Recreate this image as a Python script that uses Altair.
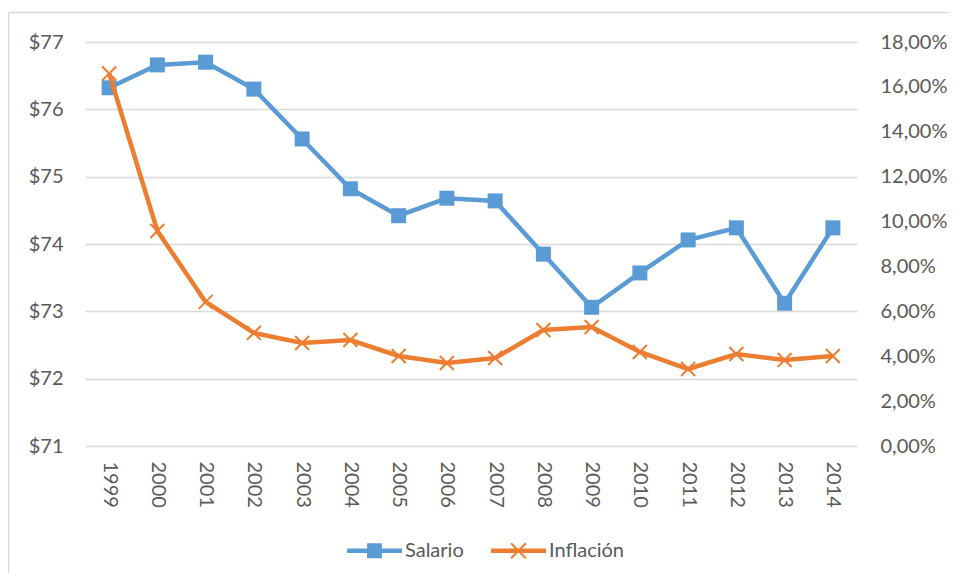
import altair as alt
import pandas as pd

years = [str(y) for y in range(1999, 2015)]
salario = [76.32, 76.66, 76.70, 76.30, 75.56, 74.82, 74.42, 74.68, 74.64, 73.85,
           73.06, 73.57, 74.06, 74.24, 73.12, 74.24]
inflacion_pct = [16.60, 9.58, 6.42, 5.04, 4.59, 4.72, 4.01, 3.70, 3.92, 5.17,
                 5.30, 4.19, 3.43, 4.10, 3.83, 4.01]
series_names = ["Salario", "Inflación"]
colors = ["#5B9BD5", "#ED7D31"]
left_ticks = [71, 72, 73, 74, 75, 76, 77]
right_ticks = [0, 0.02, 0.04, 0.06, 0.08, 0.10, 0.12, 0.14, 0.16, 0.18]

df = pd.DataFrame({
    "year": years * 2,
    "series": ["Salario"] * len(years) + ["Inflación"] * len(years),
    "value": salario + [v / 100 for v in inflacion_pct],
})

FONT = "Lato"
FS = 20
TXT = "#595959"
GRID = "#D9D9D9"

sal_path = "M-1,-0.085H1V0.085H-1Z M-0.27,-0.27H0.27V0.27H-0.27Z"
inf_path = ("M-1,-0.085H1V0.085H-1Z "
            "M-0.244,-0.296L0.296,0.244L0.244,0.296L-0.296,-0.244Z "
            "M-0.244,0.296L-0.296,0.244L0.244,-0.296L0.296,-0.244Z")

legend = alt.Legend(
    orient="none", legendX=262, legendY=481, direction="horizontal",
    title=None, symbolSize=3025, labelFontSize=FS, labelColor=TXT,
    labelFont=FONT, columnPadding=27, labelOffset=3, padding=0,
    symbolStrokeWidth=0, symbolOpacity=1,
)
color_enc = alt.Color("series:N", scale=alt.Scale(domain=series_names, range=colors),
                      legend=legend)
shape_enc = alt.Shape("series:N", scale=alt.Scale(domain=series_names,
                                                   range=[sal_path, inf_path]),
                      legend=legend)

x_enc = alt.X(
    "year:O",
    scale=alt.Scale(type="point", padding=0.5),
    axis=alt.Axis(labelAngle=90, domain=False, ticks=False, labelPadding=15,
                  title=None, labelFontSize=FS, labelColor=TXT, labelFont=FONT,
                  grid=False),
)

base = alt.Chart(df)

y_left = alt.Y(
    "value:Q",
    scale=alt.Scale(domain=[71, 77], nice=False, zero=False),
    axis=alt.Axis(orient="left", values=left_ticks, labelExpr="'$' + datum.value",
                  grid=True, gridColor=GRID, gridWidth=1.5, domain=False, ticks=False,
                  labelPadding=22, labelFontSize=FS, labelColor=TXT, labelFont=FONT,
                  title=None),
)
y_right = alt.Y(
    "value:Q",
    scale=alt.Scale(domain=[0, 0.18], nice=False),
    axis=alt.Axis(orient="right", values=right_ticks,
                  labelExpr="replace(format(datum.value, '.2%'), '.', ',')",
                  grid=False, domain=False, ticks=False, labelPadding=23,
                  labelFontSize=FS, labelColor=TXT, labelFont=FONT, title=None),
)

sal = base.transform_filter(alt.datum.series == "Salario")
sal_layer = alt.layer(
    sal.mark_line(strokeWidth=4.5, color=colors[0]).encode(x=x_enc, y=y_left),
    sal.mark_point(shape="square", filled=True, size=225, opacity=1,
                   color=colors[0]).encode(x=x_enc, y=y_left),
    sal.mark_point(filled=True, opacity=0).encode(
        x=x_enc, y=y_left, color=color_enc, shape=shape_enc),
)

inf = base.transform_filter(alt.datum.series == "Inflación")
inf_layer = alt.layer(
    inf.mark_line(strokeWidth=4.5, color=colors[1]).encode(x=x_enc, y=y_right),
    inf.mark_point(shape="M-1,-1L1,1M-1,1L1,-1", filled=False, size=196,
                   strokeWidth=2, opacity=1, color=colors[1]).encode(x=x_enc, y=y_right),
    inf.mark_point(filled=True, opacity=0).encode(
        x=x_enc, y=y_right, color=color_enc, shape=shape_enc),
)

frame_df = pd.DataFrame({"a": [0]})
frame_top = alt.Chart(frame_df).mark_rule(color=GRID, strokeWidth=1.5).encode(
    x=alt.value(-76.5), x2=alt.value(864), y=alt.value(-29.5))
frame_left = alt.Chart(frame_df).mark_rule(color=GRID, strokeWidth=1.5).encode(
    x=alt.value(-76.5), y=alt.value(-29.5), y2=alt.value(531))

chart = alt.layer(sal_layer, inf_layer, frame_top, frame_left).resolve_scale(
    y="independent"
).properties(
    width=772, height=404,
    autosize=alt.AutoSizeParams(type="none"),
    padding={"left": 77, "top": 34, "right": 92, "bottom": 127},
).configure_view(stroke=None)

chart.save("out.html", embed_options={"renderer": "svg", "actions": False})
